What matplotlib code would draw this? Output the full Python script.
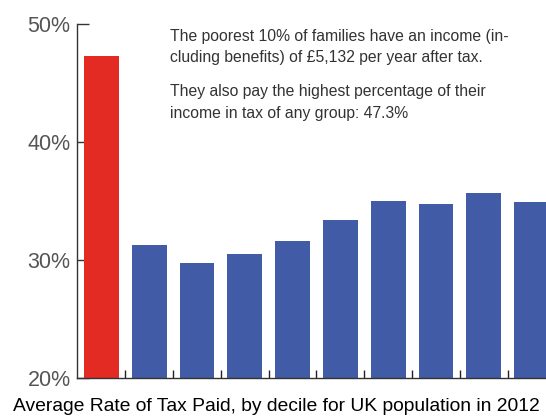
import numpy as np
import matplotlib
matplotlib.use("Agg")
import matplotlib.pyplot as plt

plt.rcParams['font.family'] = ['Liberation Sans', 'DejaVu Sans']

deciles = np.arange(1, 11)
tax_rate = [47.3, 31.3, 29.7, 30.5, 31.6, 33.4, 35.0, 34.7, 35.7, 34.9]
bar_colors = ['#e32a23'] + ['#425ba6'] * 9
y_ticks = [20, 30, 40, 50]
y_labels = ['20%', '30%', '40%', '50%']
note_1 = ("The poorest 10% of families have an income (in-\n"
          "cluding benefits) of £5,132 per year after tax.")
note_2 = ("They also pay the highest percentage of their\n"
          "income in tax of any group: 47.3%")
title = "Average Rate of Tax Paid, by decile for UK population in 2012"

fig = plt.figure(figsize=(5.46, 4.18), dpi=100)
ax = fig.add_axes([0.1419, 0.0964, 0.8755, 0.846])
x = np.arange(len(deciles))
ax.bar(x, tax_rate, width=0.73, color=bar_colors, zorder=2)
ax.set_axisbelow(True)

ax.set_xlim(-0.5, 9.5)
ax.set_ylim(20, 50)
ax.set_yticks(y_ticks)
ax.set_yticklabels(y_labels)
ax.set_xticks(x[:-1] + 0.5)
ax.set_xticklabels([])

for s in ['top', 'right']:
    ax.spines[s].set_visible(False)
for s in ['left', 'bottom']:
    ax.spines[s].set_color('#333333')
    ax.spines[s].set_linewidth(1.0)

ax.tick_params(axis='y', direction='in', length=8.6, width=1.0, color='#333333',
               labelsize=15.5, labelcolor='#555555', pad=5)
ax.tick_params(axis='x', direction='in', length=5.8, width=1.0, color='#222222')

# two paragraphs of the note
fig.text(0.311, 0.931, note_1, fontsize=11.3, color='#333333',
         va='top', ha='left', linespacing=1.55)
fig.text(0.311, 0.799, note_2, fontsize=11.3, color='#333333',
         va='top', ha='left', linespacing=1.55)
fig.text(0.024, 0.008, title, fontsize=13.85, color='black', ha='left', va='bottom')

fig.savefig('out.png', dpi=100)
